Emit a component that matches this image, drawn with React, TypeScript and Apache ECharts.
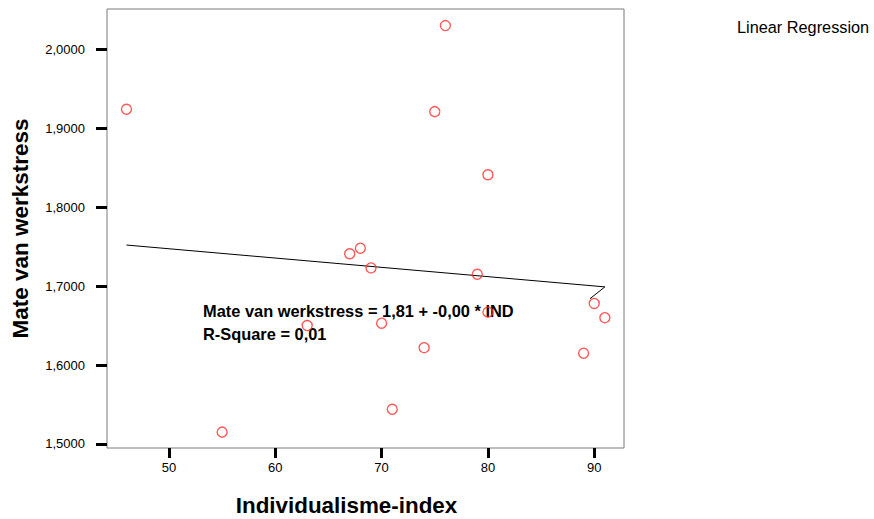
import React, { useEffect, useRef } from "react";
import * as echarts from "echarts";

const indX = [46, 55, 63, 67, 68, 69, 70, 71, 74, 75, 76, 79, 80, 80, 89, 90, 91];
const stressY = [1.924, 1.515, 1.650, 1.741, 1.748, 1.723, 1.653, 1.544, 1.622, 1.921, 2.030, 1.715, 1.841, 1.667, 1.615, 1.678, 1.660];
const fitX = [46, 91, 89.6];
const fitY = [1.752, 1.699, 1.684];
const xTicks = [50, 60, 70, 80, 90];
const yTicks = [1.5, 1.6, 1.7, 1.8, 1.9, 2.0];
const equationLines = ["Mate van werkstress = 1,81 + -0,00 * IND", "R-Square = 0,01"];
const legendText = "Linear Regression";

const FONT = "'Liberation Sans', Arial, Helvetica, sans-serif";

export default function App() {
  const ref = useRef<HTMLDivElement>(null);
  useEffect(() => {
    if (!ref.current) return;
    const chart = echarts.init(ref.current, undefined, { renderer: "svg" });
    chart.setOption({
      animation: false,
      backgroundColor: "#fff",
      textStyle: { fontFamily: FONT },
      grid: {
        left: 107,
        top: 9,
        width: 517,
        height: 439,
        show: true,
        borderColor: "#7a7a7a",
        borderWidth: 1,
        backgroundColor: "transparent",
        outerBoundsMode: "none",
        containLabel: false,
      },
      xAxis: {
        type: "value",
        min: 44.17,
        max: 92.8,
        axisLine: { show: false },
        splitLine: { show: false },
        axisTick: {
          show: true,
          length: 10,
          customValues: xTicks,
          lineStyle: { color: "#000", width: 3 },
        },
        axisLabel: {
          customValues: xTicks,
          margin: 13,
          fontSize: 13,
          color: "#000",
          fontFamily: FONT,
        },
        name: "Individualisme-index",
        nameLocation: "middle",
        nameGap: 46,
        nameTextStyle: {
          fontSize: 22.4,
          fontWeight: "bold",
          color: "#000",
          fontFamily: FONT,
          padding: [0, 38, 0, 0],
        },
      },
      yAxis: {
        type: "value",
        min: 1.4949,
        max: 2.051,
        axisLine: { show: false },
        splitLine: { show: false },
        axisTick: {
          show: true,
          length: 11,
          customValues: yTicks,
          lineStyle: { color: "#000", width: 3 },
        },
        axisLabel: {
          customValues: yTicks,
          margin: 22,
          fontSize: 13,
          color: "#000",
          fontFamily: FONT,
          formatter: (v: number) => v.toFixed(4).replace(".", ","),
        },
        name: "Mate van werkstress",
        nameLocation: "middle",
        nameGap: 75,
        nameTextStyle: { fontSize: 22.5, fontWeight: "bold", color: "#000", fontFamily: FONT },
      },
      series: [
        {
          type: "line",
          data: fitX.map((x, i) => [x, fitY[i]]),
          showSymbol: false,
          lineStyle: { color: "#000", width: 1 },
          silent: true,
          z: 2,
        },
        {
          type: "scatter",
          data: indX.map((x, i) => [x, stressY[i]]),
          symbol: "circle",
          symbolSize: 10,
          itemStyle: { color: "rgba(255,255,255,0)", borderColor: "#ff3030", borderWidth: 1.4 },
          z: 3,
        },
      ],
      graphic: [
        {
          type: "text",
          left: 737,
          top: 19,
          style: { text: legendText, fontSize: 16.3, fill: "#000", fontFamily: FONT },
        },
        {
          type: "text",
          left: 203,
          top: 299,
          z: 1,
          style: {
            text: equationLines.join("\n"),
            fontSize: 16.4,
            fontWeight: "bold",
            lineHeight: 23,
            fill: "#000",
            fontFamily: FONT,
          },
        },
      ],
    });
    return () => chart.dispose();
  }, []);
  return <div ref={ref} style={{ width: 874, height: 519, position: "absolute", left: 0, top: 0 }} />;
}
